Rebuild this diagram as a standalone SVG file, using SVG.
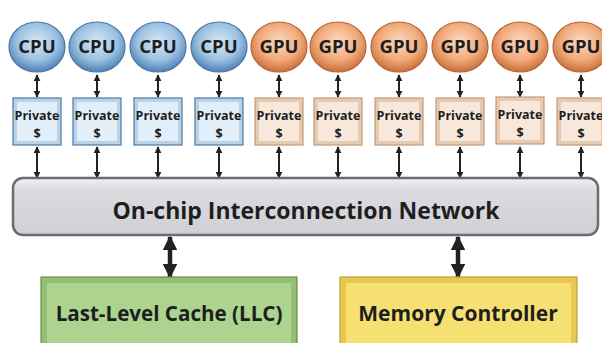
<svg xmlns="http://www.w3.org/2000/svg" width="602" height="343" viewBox="0 0 602 343">
<defs>
<radialGradient id="gCpu" cx="50%" cy="40%" r="60%">
<stop offset="0" stop-color="#d6e8f5"/><stop offset="0.6" stop-color="#9cc2e3"/><stop offset="1" stop-color="#4f81b3"/>
</radialGradient>
<radialGradient id="gGpu" cx="50%" cy="40%" r="60%">
<stop offset="0" stop-color="#fbdcc4"/><stop offset="0.6" stop-color="#f2aa7a"/><stop offset="1" stop-color="#c86f3a"/>
</radialGradient>
<linearGradient id="gNet" x1="0" y1="0" x2="0" y2="1">
<stop offset="0" stop-color="#f2f2f4"/><stop offset="0.2" stop-color="#dcdce0"/><stop offset="1" stop-color="#cfcfd4"/>
</linearGradient>
<marker id="ah" viewBox="0 0 10 10" refX="9" refY="5" markerWidth="3.6" markerHeight="3.6" orient="auto-start-reverse" markerUnits="strokeWidth">
<path d="M0,0 L10,5 L0,10 z" fill="#222"/>
</marker>
<marker id="ahB" viewBox="0 0 10 10" refX="9" refY="5" markerWidth="3.4" markerHeight="3.2" orient="auto-start-reverse" markerUnits="strokeWidth">
<path d="M0,0 L10,5 L0,10 z" fill="#222"/>
</marker>
</defs>
<style>
.t{font-family:"Open Sans",Lato,"Liberation Sans",sans-serif;font-weight:bold;fill:#1e1e1e;text-anchor:middle}
.cpu{fill:url(#gCpu);stroke:#4a78a6;stroke-width:1.2}
.gpu{fill:url(#gGpu);stroke:#b8643a;stroke-width:1.2}
.pc{fill:#b9d2e8;stroke:#4d7aa6;stroke-width:1.2}
.pci{fill:#e2eef8}
.pg{fill:#e6cbb3;stroke:#c39a7a;stroke-width:1.2}
.pgi{fill:#f7e8db}
.sa{stroke:#222;stroke-width:2;fill:none;marker-start:url(#ah);marker-end:url(#ah)}
.ba{stroke:#222;stroke-width:4.5;fill:none;marker-start:url(#ahB);marker-end:url(#ahB)}
.lbl{font-size:18.5px}
.ps{font-size:12.5px}
</style>

<g id="connectors">
<line class="sa" x1="37" y1="75" x2="37" y2="97"/>
<line class="sa" x1="97" y1="75" x2="97" y2="97"/>
<line class="sa" x1="158" y1="75" x2="158" y2="97"/>
<line class="sa" x1="219" y1="75" x2="219" y2="97"/>
<line class="sa" x1="279" y1="75" x2="279" y2="97"/>
<line class="sa" x1="338" y1="75" x2="338" y2="97"/>
<line class="sa" x1="399" y1="75" x2="399" y2="97"/>
<line class="sa" x1="460" y1="75" x2="460" y2="97"/>
<line class="sa" x1="520" y1="75" x2="520" y2="97"/>
<line class="sa" x1="581" y1="75" x2="581" y2="97"/>
<line class="sa" x1="37" y1="147" x2="37" y2="178"/>
<line class="sa" x1="97" y1="147" x2="97" y2="178"/>
<line class="sa" x1="158" y1="147" x2="158" y2="178"/>
<line class="sa" x1="219" y1="147" x2="219" y2="178"/>
<line class="sa" x1="279" y1="147" x2="279" y2="178"/>
<line class="sa" x1="338" y1="147" x2="338" y2="178"/>
<line class="sa" x1="399" y1="147" x2="399" y2="178"/>
<line class="sa" x1="460" y1="147" x2="460" y2="178"/>
<line class="sa" x1="520" y1="147" x2="520" y2="178"/>
<line class="sa" x1="581" y1="147" x2="581" y2="178"/>
<line class="ba" x1="170" y1="237" x2="170" y2="277"/>
<line class="ba" x1="458" y1="237" x2="458" y2="277"/>
</g>

<g id="cpu1"><ellipse class="cpu" cx="37" cy="47" rx="28" ry="25"/><text class="t lbl" x="37" y="53">CPU</text></g>
<g id="cpu2"><ellipse class="cpu" cx="97" cy="47" rx="28" ry="25"/><text class="t lbl" x="97" y="53">CPU</text></g>
<g id="cpu3"><ellipse class="cpu" cx="158" cy="47" rx="28" ry="25"/><text class="t lbl" x="158" y="53">CPU</text></g>
<g id="cpu4"><ellipse class="cpu" cx="219" cy="47" rx="28" ry="25"/><text class="t lbl" x="219" y="53">CPU</text></g>
<g id="gpu1"><ellipse class="gpu" cx="279" cy="47" rx="28" ry="25"/><text class="t lbl" x="279" y="53">GPU</text></g>
<g id="gpu2"><ellipse class="gpu" cx="338" cy="47" rx="28" ry="25"/><text class="t lbl" x="338" y="53">GPU</text></g>
<g id="gpu3"><ellipse class="gpu" cx="399" cy="47" rx="28" ry="25"/><text class="t lbl" x="399" y="53">GPU</text></g>
<g id="gpu4"><ellipse class="gpu" cx="460" cy="47" rx="28" ry="25"/><text class="t lbl" x="460" y="53">GPU</text></g>
<g id="gpu5"><ellipse class="gpu" cx="520" cy="47" rx="28" ry="25"/><text class="t lbl" x="520" y="53">GPU</text></g>
<g id="gpu6"><ellipse class="gpu" cx="581" cy="47" rx="28" ry="25"/><text class="t lbl" x="581" y="53">GPU</text></g>

<g id="pc1"><rect class="pc" x="13" y="98" width="48" height="47"/><rect class="pci" x="17" y="102" width="40" height="39"/><text class="t ps" x="37" y="120">Private</text><text class="t ps" x="37" y="138">$</text></g>
<g id="pc2"><rect class="pc" x="73" y="98" width="48" height="47"/><rect class="pci" x="77" y="102" width="40" height="39"/><text class="t ps" x="97" y="120">Private</text><text class="t ps" x="97" y="138">$</text></g>
<g id="pc3"><rect class="pc" x="134" y="98" width="48" height="47"/><rect class="pci" x="138" y="102" width="40" height="39"/><text class="t ps" x="158" y="120">Private</text><text class="t ps" x="158" y="138">$</text></g>
<g id="pc4"><rect class="pc" x="195" y="98" width="48" height="47"/><rect class="pci" x="199" y="102" width="40" height="39"/><text class="t ps" x="219" y="120">Private</text><text class="t ps" x="219" y="138">$</text></g>
<g id="pg1"><rect class="pg" x="255" y="98" width="48" height="47"/><rect class="pgi" x="259" y="102" width="40" height="39"/><text class="t ps" x="279" y="120">Private</text><text class="t ps" x="279" y="138">$</text></g>
<g id="pg2"><rect class="pg" x="314" y="98" width="48" height="47"/><rect class="pgi" x="318" y="102" width="40" height="39"/><text class="t ps" x="338" y="120">Private</text><text class="t ps" x="338" y="138">$</text></g>
<g id="pg3"><rect class="pg" x="375" y="98" width="48" height="47"/><rect class="pgi" x="379" y="102" width="40" height="39"/><text class="t ps" x="399" y="120">Private</text><text class="t ps" x="399" y="138">$</text></g>
<g id="pg4"><rect class="pg" x="436" y="98" width="48" height="47"/><rect class="pgi" x="440" y="102" width="40" height="39"/><text class="t ps" x="460" y="120">Private</text><text class="t ps" x="460" y="138">$</text></g>
<g id="pg5"><rect class="pg" x="496" y="97" width="48" height="47"/><rect class="pgi" x="500" y="101" width="40" height="39"/><text class="t ps" x="520" y="119">Private</text><text class="t ps" x="520" y="137">$</text></g>
<g id="pg6"><rect class="pg" x="557" y="98" width="48" height="47"/><rect class="pgi" x="561" y="102" width="40" height="39"/><text class="t ps" x="581" y="120">Private</text><text class="t ps" x="581" y="138">$</text></g>

<g id="network"><rect x="13" y="178" width="585" height="57" rx="10" fill="url(#gNet)" stroke="#6b6b70" stroke-width="2.5"/><text class="t" x="306" y="219" font-size="23">On-chip Interconnection Network</text></g>

<g id="llc"><rect x="41" y="277" width="256" height="70" fill="#93bf73" stroke="#6c8f4c" stroke-width="1.2"/><rect x="47" y="283" width="244" height="64" fill="#acd48e"/><text class="t" x="169" y="321" font-size="20.6">Last-Level Cache (LLC)</text></g>
<g id="mc"><rect x="340" y="277" width="237" height="70" fill="#e6c94e" stroke="#bf9f38" stroke-width="1.2"/><rect x="346" y="283" width="225" height="64" fill="#f6e072"/><text class="t" x="458" y="321" font-size="21">Memory Controller</text></g>
</svg>
